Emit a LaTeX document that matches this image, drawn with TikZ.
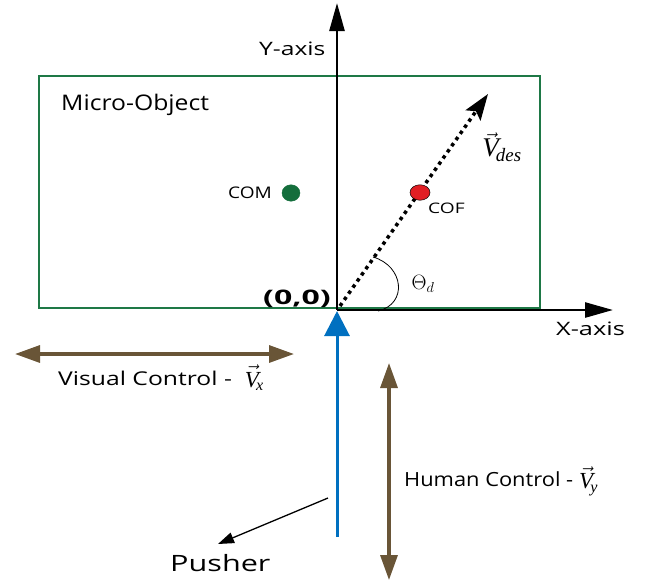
\documentclass[tikz,border=0pt]{standalone}
\usepackage{fontspec}
\usepackage{amsmath}
\setmainfont{Open Sans}
\newfontfamily\tms{Liberation Serif}
\usetikzlibrary{arrows.meta,shapes.geometric}
\definecolor{objgreen}{RGB}{30,120,70}
\definecolor{comgreen}{RGB}{20,110,60}
\definecolor{pushblue}{RGB}{0,112,192}
\definecolor{ctrlbrown}{RGB}{105,85,55}
\definecolor{cofred}{RGB}{225,30,36}
% wide sans labels and Times-like vector symbols
\newcommand\wide[2]{\scalebox{#1}[1]{#2}}
\newcommand\vecsym[1]{$\vec{\text{\tms\itshape V}}_{\!\text{\tms\itshape #1}}$}
\tikzset{
  axis/.style={line width=2.6pt,-{Triangle[length=28pt,width=15pt]}},
  ctrl/.style={ctrlbrown,line width=3.3pt,{Triangle[length=25pt,width=17pt]}-{Triangle[length=25pt,width=17pt]}},
  txt/.style={inner sep=0pt,anchor=base west},
  dot/.style={ellipse,inner sep=0pt},
}
\begin{document}
\begin{tikzpicture}[x=1pt,y=-1pt]
\useasboundingbox (0,0) rectangle (645,582);
% micro-object outline
\draw[objgreen,line width=2pt] (39,76) rectangle (540,308);
\node[txt,font=\fontsize{21.5}{24}\selectfont] (mo) at (61,110) {\wide{1.15}{Micro-Object}};
% axes
\coordinate (o) at (337,310);
\coordinate (ytip) at (337,3);
\coordinate (xtip) at (613,310);
\draw[axis] (o) -- (ytip);
\draw[axis] (o) -- (xtip);
\node[txt,font=\fontsize{18.5}{21}\selectfont] (yl) at (259,55.5) {\wide{1.33}{Y-axis}};
\node[txt,font=\fontsize{18.5}{21}\selectfont] (xl) at (556,335.5) {\wide{1.37}{X-axis}};
\node[txt,font=\fontsize{20}{22}\selectfont\bfseries] (orig) at (263,304) {\wide{1.6}{(0,0)}};
% centres of mass and friction
\node[dot,draw=comgreen,fill=comgreen,minimum width=18pt,minimum height=16.5pt] (com) at (291,193) {};
\node[txt,font=\fontsize{16}{18}\selectfont] (coml) at (228,198.3) {\wide{1.19}{COM}};
% desired direction
\coordinate (vs) at (340,306);
\coordinate (vtip) at (488,94);
\draw[line width=3.5pt,dash pattern=on 3.5pt off 4pt,-{Stealth[length=26pt,width=18pt,inset=5pt]}] (vs) -- (vtip);
\node[dot,draw=black,line width=0.5pt,fill=cofred,minimum width=20pt,minimum height=15.5pt] (cof) at (420,192.5) {};
\node[txt,font=\fontsize{14.5}{17}\selectfont] (cofl) at (428,213.3) {\wide{1.32}{COF}};
\node[inner sep=0pt,font=\fontsize{27}{30}\selectfont] (vd) at (502,147) {\vecsym{des}};
% desired angle
\draw[line width=0.8pt] (373,257) .. controls (404,266) and (408,304) .. (378,311);
\node[inner sep=0pt,font=\fontsize{22}{26}\selectfont] (th) at (423,284) {$\Theta_{d}$};
% pusher
\coordinate (pb) at (337,537);
\coordinate (ptip) at (337,311);
\draw[pushblue,line width=3pt,-{Triangle[length=25pt,width=25pt]}] (pb) -- (ptip);
\coordinate (ps) at (328,498);
\coordinate (pe) at (218,544);
\draw[line width=1.3pt,-{Triangle[length=16pt,width=11pt]}] (ps) -- (pe);
\node[txt,font=\fontsize{22.5}{25}\selectfont] (pl) at (170,571) {\wide{1.36}{Pusher}};
% control directions
\coordinate (vxl) at (15,354);
\coordinate (vxr) at (294,354);
\draw[ctrl] (vxl) -- (vxr);
\node[txt,font=\fontsize{19}{22}\selectfont] (vxlab) at (58,385) {\wide{1.3}{Visual Control -}\hspace{13pt}{\fontsize{23}{26}\selectfont\raisebox{-2pt}{\vecsym{x}}}};
\coordinate (vyt) at (389,363);
\coordinate (vyb) at (389,580);
\draw[ctrl] (vyt) -- (vyb);
\node[txt,font=\fontsize{19.5}{22}\selectfont] (vylab) at (404,486.5) {\wide{1.12}{Human Control -}\hspace{6pt}{\fontsize{23}{26}\selectfont\raisebox{-2pt}{\vecsym{y}}}};
\end{tikzpicture}
\end{document}
